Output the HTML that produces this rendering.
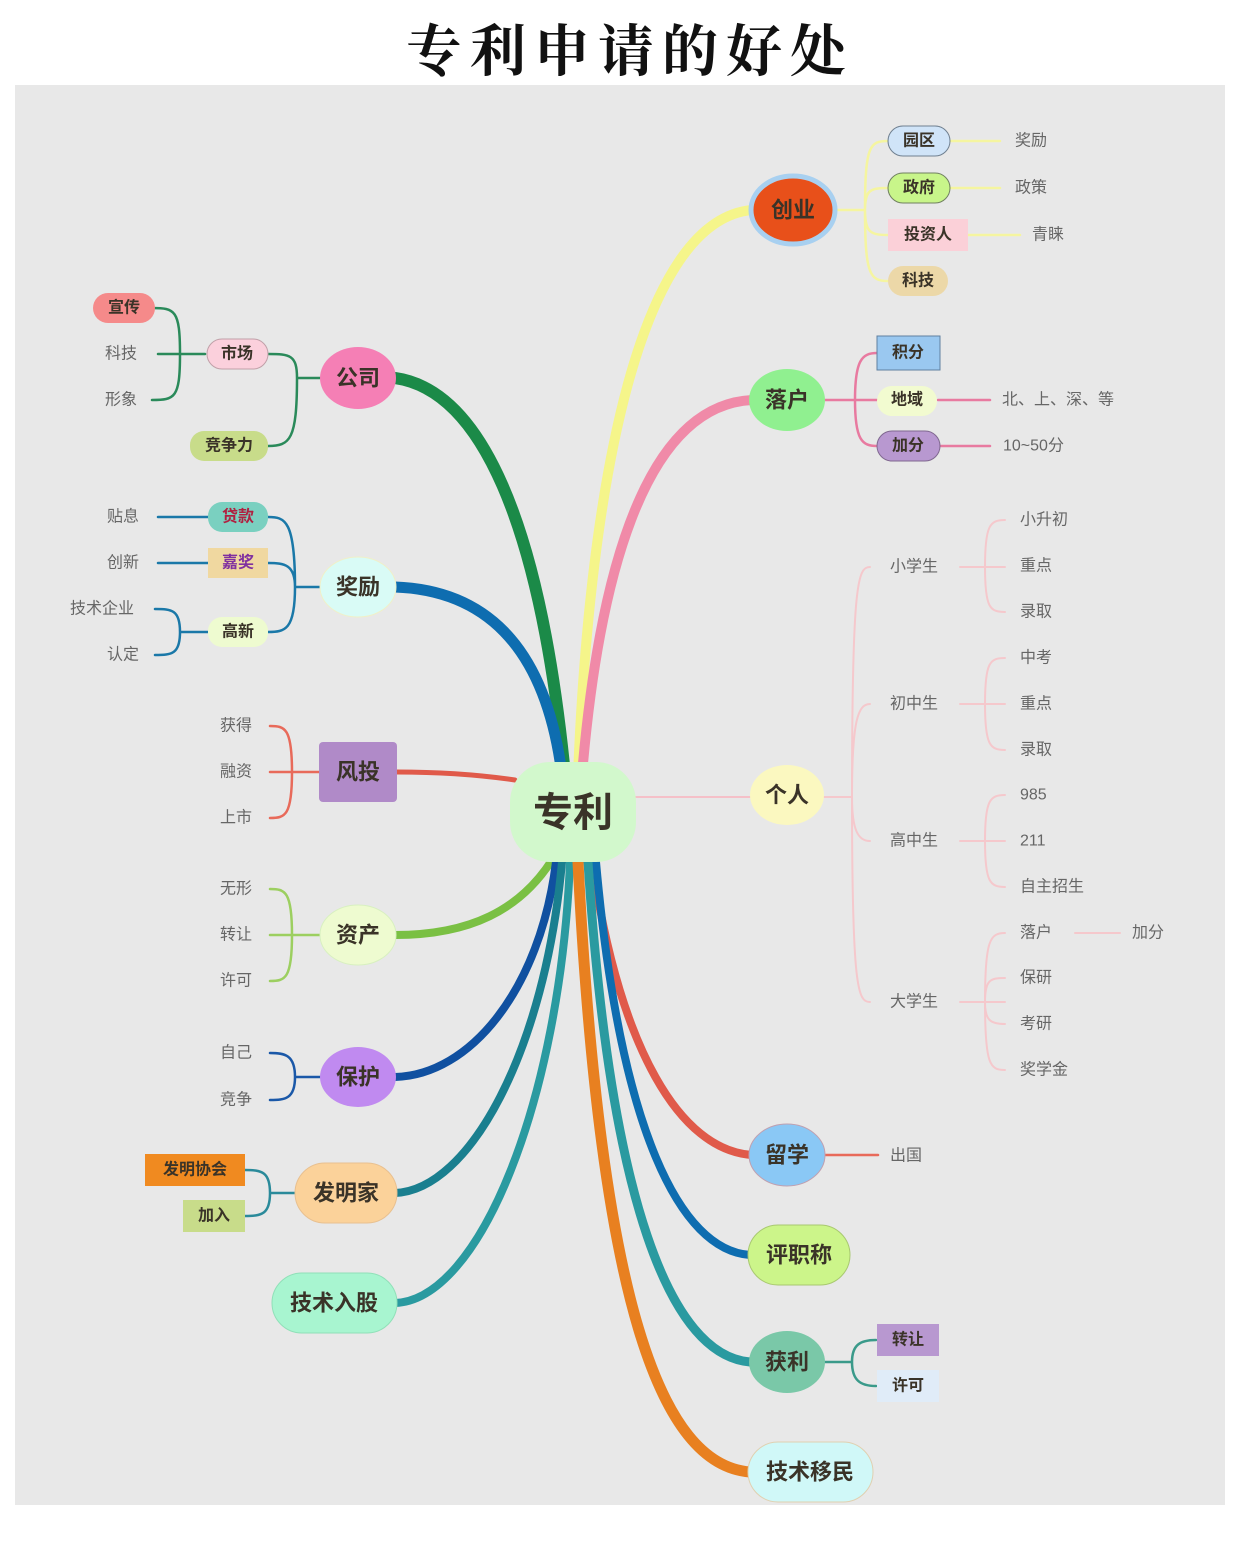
<!DOCTYPE html>
<html><head><meta charset="utf-8"><style>
html,body{margin:0;padding:0;background:#fff;width:1240px;height:1560px;overflow:hidden}
svg{display:block}
.n{font-family:"Liberation Sans","Noto Sans CJK SC",sans-serif;font-weight:bold;fill:#3a3328;text-anchor:middle;dominant-baseline:central}
.l{font-family:"Liberation Sans","Noto Sans CJK SC",sans-serif;fill:#666;font-size:16px;dominant-baseline:central}
</style></head><body>
<svg width="1240" height="1560" viewBox="0 0 1240 1560">
<text x="630" y="48" font-family="'Noto Serif CJK SC','Liberation Serif',serif" font-size="56" font-weight="bold" letter-spacing="8" text-anchor="middle" dominant-baseline="central" fill="#111">专利申请的好处</text>
<rect x="15" y="85" width="1210" height="1420" fill="#e8e8e8"/>
<g fill="none" stroke-linecap="round">
<path d="M565 775 C540 520 480 390 395 378" stroke="#1b8a48" stroke-width="12"/>
<path d="M562 775 C545 640 480 590 395 587" stroke="#0e6db0" stroke-width="11"/>
<path d="M515 780 Q460 772 397 772" stroke="#e05a4a" stroke-width="5"/>
<path d="M552 860 C520 910 470 935 395 935" stroke="#7ac043" stroke-width="8"/>
<path d="M556 862 C540 990 470 1075 395 1077" stroke="#1050a0" stroke-width="8"/>
<path d="M562 862 C545 1050 470 1190 395 1193" stroke="#1a7f8f" stroke-width="8"/>
<path d="M570 862 C560 1100 480 1300 395 1303" stroke="#2a9aa0" stroke-width="8"/>
<path d="M578 775 C590 480 640 220 752 210" stroke="#f5f58a" stroke-width="10"/>
<path d="M582 775 C600 560 650 405 752 400" stroke="#f08aa8" stroke-width="10"/>
<path d="M635 797 H752" stroke="#f5c0c8" stroke-width="2"/>
<path d="M592 862 C620 1050 680 1150 752 1155" stroke="#e05a4a" stroke-width="8"/>
<path d="M596 862 C620 1130 680 1250 750 1255" stroke="#0e6db0" stroke-width="8"/>
<path d="M588 862 C610 1200 670 1355 750 1362" stroke="#2a9aa0" stroke-width="9"/>
<path d="M578 862 C600 1300 660 1465 750 1472" stroke="#e88020" stroke-width="11"/>
<g stroke="#2a8a5a" stroke-width="2.5">
<path d="M320 378 H297 M297 378 C297 355 290 354 268 354 M297 378 C297 440 290 446 268 446"/>
<path d="M205 354 H158 M180 354 C180 310 175 308 152 308 M180 354 C180 398 175 400 152 400"/>
</g>
<g stroke="#1a78a8" stroke-width="2.5">
<path d="M320 587 H295 M295 587 C295 520 285 517 268 517 M295 587 C295 565 285 563 268 563 M295 587 C295 630 285 632 268 632"/>
<path d="M208 517 H158 M208 563 H158 M208 632 H180 M180 632 C180 610 172 609 155 609 M180 632 C180 654 172 655 155 655"/>
</g>
<g stroke="#e86a5a" stroke-width="2.5"><path d="M320 772 H292 M292 772 C292 728 285 726 270 726 M292 772 H270 M292 772 C292 816 285 818 270 818"/></g>
<g stroke="#9ccf60" stroke-width="2.5"><path d="M320 935 H292 M292 935 C292 891 285 889 270 889 M292 935 H270 M292 935 C292 979 285 981 270 981"/></g>
<g stroke="#1a58a8" stroke-width="2.5"><path d="M320 1077 H295 M295 1077 C295 1055 285 1053 270 1053 M295 1077 C295 1099 285 1100 270 1100"/></g>
<g stroke="#2a8a9a" stroke-width="2.5"><path d="M295 1193 H270 M270 1193 C270 1172 262 1170 245 1170 M270 1193 C270 1214 262 1216 245 1216"/></g>
<g stroke="#f5f5a0" stroke-width="2.5"><path d="M832 210 H865 M865 210 C865 145 870 141 888 141 M865 210 C865 190 870 188 888 188 M865 210 C865 232 870 235 888 235 M865 210 C865 275 870 281 888 281 M950 141 H1000 M950 188 H1000 M968 235 H1020"/></g>
<g stroke="#e87aa0" stroke-width="2.5"><path d="M824 400 H855 M855 400 C855 360 862 353 877 353 M855 400 H877 M855 400 C855 440 862 446 877 446 M938 400 H990 M940 446 H990"/></g>
<g stroke="#f5c8cc" stroke-width="2"><path d="M824 797 H852 M852 797 C852 580 858 567 870 567 M852 797 C852 720 858 704 870 704 M852 797 C852 830 858 841 870 841 M852 797 C852 990 858 1002 870 1002
M960 567 H1005 M985 567 C985 525 990 520 1005 520 M985 567 C985 608 990 612 1005 612
M960 704 H1005 M985 704 C985 662 990 658 1005 658 M985 704 C985 745 990 750 1005 750
M960 841 H1005 M985 841 C985 800 990 795 1005 795 M985 841 C985 882 990 887 1005 887
M960 1002 H1005 M985 1002 C985 940 990 933 1005 933 M985 1002 C985 980 990 978 1005 978 M985 1002 C985 1020 990 1024 1005 1024 M985 1002 C985 1065 990 1070 1005 1070 M1075 933 H1120"/></g>
<path d="M824 1155 H878" stroke="#e86a5a" stroke-width="2.5"/>
<g stroke="#3a9a8a" stroke-width="2.5"><path d="M824 1362 H852 M852 1362 C852 1345 860 1340 876 1340 M852 1362 C852 1380 860 1386 876 1386"/></g>
</g>
<rect x="510" y="762" width="126" height="100" rx="40" fill="#d2f8cc"/>
<text class="n" x="573" y="813" font-size="40">专利</text>
<ellipse cx="358" cy="378" rx="38" ry="31" fill="#f57fb5"/><text class="n" x="358" y="378" font-size="22">公司</text>
<ellipse cx="358" cy="587" rx="38" ry="30" fill="#d9fbf6" stroke="#f0f0c8"/><text class="n" x="358" y="587" font-size="22">奖励</text>
<rect x="319" y="742" width="78" height="60" rx="4" fill="#b08ac8"/><text class="n" x="358" y="772" font-size="22">风投</text>
<ellipse cx="358" cy="935" rx="38" ry="30" fill="#eefbd0" stroke="#d8f0c0"/><text class="n" x="358" y="935" font-size="22">资产</text>
<ellipse cx="358" cy="1077" rx="38" ry="30" fill="#c08af0"/><text class="n" x="358" y="1077" font-size="22">保护</text>
<rect x="295" y="1163" width="102" height="60" rx="30" fill="#fbd29a" stroke="#e8c090"/><text class="n" x="346" y="1193" font-size="22">发明家</text>
<rect x="272" y="1273" width="125" height="60" rx="30" fill="#a8f5d0" stroke="#90e0b8"/><text class="n" x="334" y="1303" font-size="22">技术入股</text>
<rect x="93" y="293" width="62" height="30" rx="15" fill="#f58a8a"/><text class="n" x="124" y="308" font-size="16">宣传</text>
<text class="l" x="105" y="354">科技</text><text class="l" x="105" y="400">形象</text>
<rect x="207" y="339" width="61" height="30" rx="15" fill="#fbd0dc" stroke="#c0a0a8"/><text class="n" x="237" y="354" font-size="16">市场</text>
<rect x="190" y="431" width="78" height="30" rx="14" fill="#c8dc8a"/><text class="n" x="229" y="446" font-size="16">竞争力</text>
<text class="l" x="107" y="517">贴息</text><text class="l" x="107" y="563">创新</text><text class="l" x="70" y="609">技术企业</text><text class="l" x="107" y="655">认定</text>
<rect x="208" y="502" width="60" height="30" rx="14" fill="#7ad0c0"/><text class="n" x="238" y="517" font-size="16" style="fill:#b02040">贷款</text>
<rect x="208" y="548" width="60" height="30" fill="#f0d8a0"/><text class="n" x="238" y="563" font-size="16" style="fill:#8030a0">嘉奖</text>
<rect x="208" y="617" width="60" height="30" rx="14" fill="#eefbd0"/><text class="n" x="238" y="632" font-size="16">高新</text>
<text class="l" x="220" y="726">获得</text><text class="l" x="220" y="772">融资</text><text class="l" x="220" y="818">上市</text>
<text class="l" x="220" y="889">无形</text><text class="l" x="220" y="935">转让</text><text class="l" x="220" y="981">许可</text>
<text class="l" x="220" y="1053">自己</text><text class="l" x="220" y="1100">竞争</text>
<rect x="145" y="1154" width="100" height="32" fill="#f08a20"/><text class="n" x="195" y="1170" font-size="16">发明协会</text>
<rect x="183" y="1200" width="62" height="32" fill="#c8dc8a"/><text class="n" x="214" y="1216" font-size="16">加入</text>
<ellipse cx="793" cy="210" rx="42" ry="34" fill="#e8501a" stroke="#a8d0f0" stroke-width="5"/><text class="n" x="793" y="210" font-size="22">创业</text>
<ellipse cx="787" cy="400" rx="38" ry="31" fill="#90f090"/><text class="n" x="787" y="400" font-size="22">落户</text>
<ellipse cx="787" cy="795" rx="37" ry="30" fill="#fbf8c0"/><text class="n" x="787" y="795" font-size="22">个人</text>
<ellipse cx="787" cy="1155" rx="38" ry="31" fill="#8ac8f5" stroke="#c0a0b0"/><text class="n" x="787" y="1155" font-size="22">留学</text>
<rect x="748" y="1225" width="102" height="60" rx="30" fill="#ccf58a" stroke="#a8c870"/><text class="n" x="799" y="1255" font-size="22">评职称</text>
<ellipse cx="787" cy="1362" rx="38" ry="31" fill="#7ac8a8"/><text class="n" x="787" y="1362" font-size="22">获利</text>
<rect x="748" y="1442" width="125" height="60" rx="30" fill="#d0f8f8" stroke="#e0d0b0"/><text class="n" x="810" y="1472" font-size="22">技术移民</text>
<rect x="888" y="126" width="62" height="30" rx="15" fill="#d0e4f8" stroke="#708090"/><text class="n" x="919" y="141" font-size="16">园区</text>
<rect x="888" y="173" width="62" height="30" rx="15" fill="#c8f58a" stroke="#708060"/><text class="n" x="919" y="188" font-size="16">政府</text>
<rect x="888" y="219" width="80" height="32" fill="#fbd0d8"/><text class="n" x="928" y="235" font-size="16">投资人</text>
<rect x="888" y="266" width="60" height="30" rx="15" fill="#ecd8a8"/><text class="n" x="918" y="281" font-size="16">科技</text>
<text class="l" x="1015" y="141">奖励</text><text class="l" x="1015" y="188">政策</text><text class="l" x="1032" y="235">青睐</text>
<rect x="877" y="336" width="63" height="34" fill="#9ac8f0" stroke="#6080a0"/><text class="n" x="908" y="353" font-size="16">积分</text>
<rect x="877" y="386" width="60" height="30" rx="15" fill="#f2fbd0"/><text class="n" x="907" y="400" font-size="16">地域</text>
<rect x="877" y="431" width="63" height="30" rx="15" fill="#b898d0" stroke="#806890"/><text class="n" x="908" y="446" font-size="16">加分</text>
<text class="l" x="1002" y="400">北、上、深、等</text><text class="l" x="1003" y="446">10~50分</text>
<text class="l" x="890" y="567">小学生</text><text class="l" x="890" y="704">初中生</text><text class="l" x="890" y="841">高中生</text><text class="l" x="890" y="1002">大学生</text>
<text class="l" x="1020" y="520">小升初</text><text class="l" x="1020" y="566">重点</text><text class="l" x="1020" y="612">录取</text>
<text class="l" x="1020" y="658">中考</text><text class="l" x="1020" y="704">重点</text><text class="l" x="1020" y="750">录取</text>
<text class="l" x="1020" y="795">985</text><text class="l" x="1020" y="841">211</text><text class="l" x="1020" y="887">自主招生</text>
<text class="l" x="1020" y="933">落户</text><text class="l" x="1132" y="933">加分</text><text class="l" x="1020" y="978">保研</text><text class="l" x="1020" y="1024">考研</text><text class="l" x="1020" y="1070">奖学金</text>
<text class="l" x="890" y="1156">出国</text>
<rect x="877" y="1324" width="62" height="32" fill="#b898d0"/><text class="n" x="908" y="1340" font-size="16">转让</text>
<rect x="877" y="1370" width="62" height="32" fill="#e0ecf8"/><text class="n" x="908" y="1386" font-size="16">许可</text>
</svg>
</body></html>
